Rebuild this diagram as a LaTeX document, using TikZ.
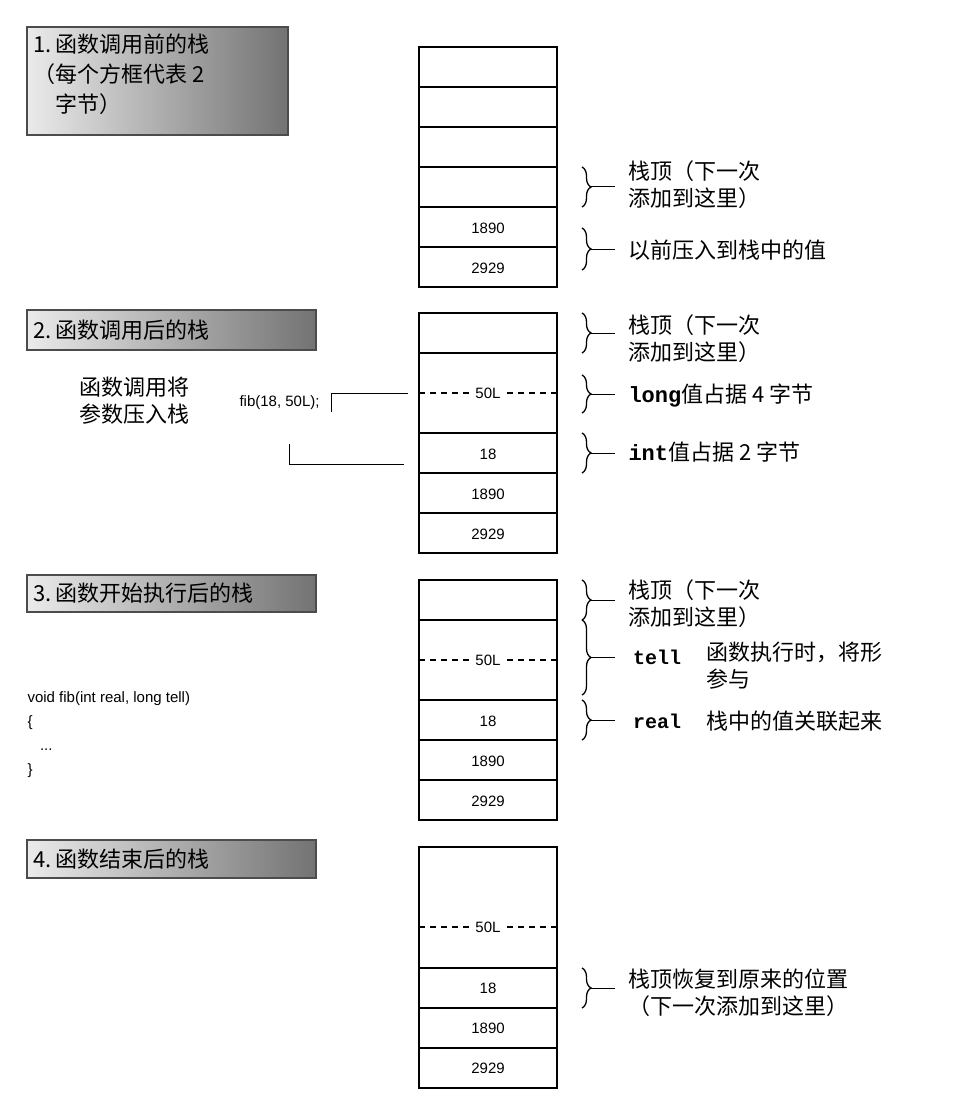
\documentclass[tikz,border=0pt]{standalone}
\usepackage{fontspec}
\setmainfont{Liberation Serif}
\newfontfamily\cjk{Noto Sans CJK SC}
\newfontfamily\mono{Liberation Mono}
\newfontfamily\num{Liberation Sans}
\usetikzlibrary{decorations.pathreplacing}
\begin{document}
\begin{tikzpicture}[x=1pt,y=-1pt,
  title/.style={draw=black!70,line width=1.5pt,left color=black!8,right color=black!55,shading angle=90},
  cell/.style={draw,line width=1.4pt},
  val/.style={font=\num\fontsize{15}{15}\selectfont},
  lab/.style={anchor=west,align=left,font=\cjk\fontsize{22}{27}\selectfont},
  br/.style={decorate,decoration={brace,amplitude=9pt},line width=1.3pt},
  ml/.style={font=\mono\bfseries\fontsize{20}{20}\selectfont,anchor=west,inner sep=1pt}]
\useasboundingbox (0,0) rectangle (972,1102);
% title boxes
\shade[title] (27,27) rectangle (288,135);
\node[lab,anchor=north west,font=\cjk\fontsize{22}{30}\selectfont] (t1) at (30,30) {1.\,函数调用前的栈\\ （每个方框代表 2\\ \phantom{（}字节）};
\shade[title] (27,310) rectangle (316,350);
\node[lab] (t2) at (30,330) {2.\,函数调用后的栈};
\shade[title] (27,575) rectangle (316,612);
\node[lab] (t3) at (30,593) {3.\,函数开始执行后的栈};
\shade[title] (27,840) rectangle (316,878);
\node[lab] (t4) at (30,859) {4.\,函数结束后的栈};
% stack 1
\foreach \y in {47,87,127,167,207,247}{\draw[cell] (419,\y) rectangle (557,\y+40);}
\draw[line width=2.2pt] (419,207)--(557,207);
\node[val] (a1) at (488,228) {1890};
\node[val] (a2) at (488,268) {2929};
% stack 2
\draw[cell] (419,313) rectangle (557,553);
\foreach \y in {353,433,473,513}{\draw[cell] (419,\y) -- (557,\y);}
\draw[line width=2.2pt] (419,353)--(557,353);
\draw[dashed,line width=1.4pt,dash pattern=on 6pt off 5pt] (419,393)--(557,393);
\node[val,fill=white] (b0) at (488,393) {50L};
\node[val] (b1) at (488,454) {18};
\node[val] (b2) at (488,494) {1890};
\node[val] (b3) at (488,534) {2929};
% stack 3
\draw[cell] (419,580) rectangle (557,820);
\foreach \y in {700,740,780}{\draw[cell] (419,\y) -- (557,\y);}
\draw[line width=2.2pt] (419,620)--(557,620);
\draw[dashed,line width=1.4pt,dash pattern=on 6pt off 5pt] (419,660)--(557,660);
\node[val,fill=white] (c0) at (488,660) {50L};
\node[val] (c1) at (488,721) {18};
\node[val] (c2) at (488,761) {1890};
\node[val] (c3) at (488,801) {2929};
% stack 4
\draw[cell] (419,847) rectangle (557,1088);
\foreach \y in {968,1008,1048}{\draw[cell] (419,\y) -- (557,\y);}
\draw[dashed,line width=1.4pt,dash pattern=on 6pt off 5pt] (419,927)--(557,927);
\node[val,fill=white] (d0) at (488,927) {50L};
\node[val] (d1) at (488,988) {18};
\node[val] (d2) at (488,1028) {1890};
\node[val] (d3) at (488,1068) {2929};
% braces
\draw[br] (582,167)--(582,207); \draw[line width=1pt] (591,187)--(615,187);
\node[lab] (l1) at (625,185) {栈顶（下一次\\添加到这里）};
\draw[br] (582,228)--(582,270); \draw[line width=1pt] (591,249)--(615,249);
\node[lab] (l2) at (625,250) {以前压入到栈中的值};
\draw[br] (582,313)--(582,353); \draw[line width=1pt] (591,333)--(615,333);
\node[lab] (l3) at (625,339) {栈顶（下一次\\添加到这里）};
\draw[br] (582,375)--(582,413); \draw[line width=1pt] (591,394)--(615,394);
\node[lab] (l4) at (625,396) {{\mono\bfseries long}值占据 4 字节};
\draw[br] (582,433)--(582,473); \draw[line width=1pt] (591,453)--(615,453);
\node[lab] (l5) at (625,452) {{\mono\bfseries int}值占据 2 字节};
\draw[br] (582,580)--(582,620); \draw[line width=1pt] (591,600)--(615,600);
\node[lab] (l6) at (625,604) {栈顶（下一次\\添加到这里）};
\draw[br] (582,620)--(582,695); \draw[line width=1pt] (591,657)--(615,657);
\node[ml] (l7) at (632,657) {tell};
\draw[br] (582,700)--(582,740); \draw[line width=1pt] (591,720)--(615,720);
\node[ml] (l8) at (632,721) {real};
\node[lab] (l9) at (703,666) {函数执行时，将形\\参与};
\node[lab] (l10) at (703,721) {栈中的值关联起来};
\draw[br] (582,968)--(582,1008); \draw[line width=1pt] (591,988)--(615,988);
\node[lab] (l11) at (625,993) {栈顶恢复到原来的位置\\（下一次添加到这里）};
% left side panel 2
\node[lab] (cl) at (76,401) {函数调用将\\参数压入栈};
\node[font=\num\fontsize{15}{15}\selectfont,anchor=west] (fib) at (236,403) {fib(18, 50L);};
\coordinate (u1) at (331,412);
\draw[line width=0.8pt] (u1) |- (408,393);
\coordinate (u2) at (289,444);
\draw[line width=0.8pt] (u2) |- (404,464);
% code panel 3
\node[font=\num\fontsize{15}{24}\selectfont,anchor=north west,align=left] (code) at (24,688) {void fib(int real, long tell)\\\{\\\ \ \ ...\\\}};
\end{tikzpicture}
\end{document}
